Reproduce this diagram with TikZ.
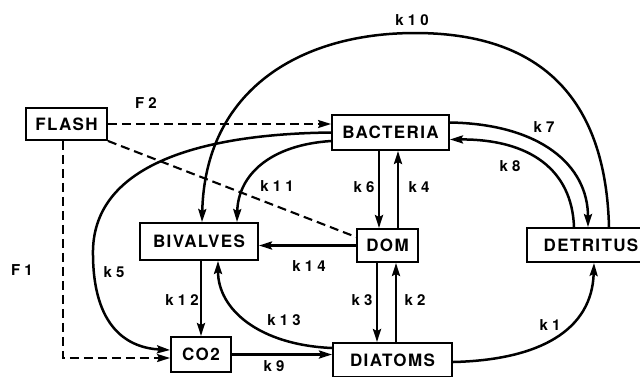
\documentclass[tikz,border=0pt]{standalone}
\usepackage{fontspec}
\usetikzlibrary{arrows.meta}
\newfontfamily\bxfont[LetterSpace=8]{TeX Gyre Heros}
\newfontfamily\lbfont[LetterSpace=28]{TeX Gyre Heros}
\begin{document}
\begin{tikzpicture}[x=1pt,y=-1pt,
  box/.style={draw,line width=1.9pt,inner sep=0pt,font={\bxfont\bfseries\fontsize{17}{17}\selectfont}},
  lab/.style={inner sep=0pt,font={\lbfont\bfseries\fontsize{15}{15}\selectfont}},
  arr/.style={line width=2.5pt,-{Stealth[length=13pt,width=8pt,inset=2pt]}},
  dsh/.style={line width=2.1pt,dash pattern=on 9pt off 5pt},
  dsharr/.style={dsh,-{Stealth[length=13pt,width=8pt,inset=2pt]}}]
\clip (0,0) rectangle (640,376);
\fill[white] (0,0) rectangle (640,376);
% boxes
\node[box,minimum width=81pt,minimum height=32pt] (flash) at (66.5,124) {FLASH};
\node[box,minimum width=117pt,minimum height=35pt] (bact) at (390.5,132.5) {BACTERIA};
\node[box,minimum width=118pt,minimum height=37pt] (biv) at (199,241.5) {BIVALVES};
\node[box,minimum width=61pt,minimum height=33pt] (dom) at (387.5,245.5) {DOM};
\node[box,minimum width=128pt,minimum height=34pt] (det) at (591,245) {DETRITUS};
\node[box,minimum width=60pt,minimum height=35pt] (co2) at (201,354.5) {CO2};
\node[box,minimum width=119pt,minimum height=34pt] (diat) at (392.5,360) {DIATOMS};
% dashed flows
\draw[dsharr] (flash.east) -- (flash.east -| bact.west);
\draw[dsh] (flash.south east) -- ([yshift=8.5pt]dom.west);
\draw[dsharr] ([xshift=-3.5pt]flash.south) |- ([yshift=-3.5pt]co2.west);
% straight flows
\draw[arr] ([xshift=-11.5pt]bact.south) -- ([xshift=-11.5pt]bact.south |- dom.north);
\draw[arr] ([xshift=10.5pt]dom.north) -- ([xshift=10.5pt]dom.north |- bact.south);
\draw[arr] ([xshift=-10.5pt]dom.south) -- ([xshift=-10.5pt]dom.south |- diat.north);
\draw[arr] ([xshift=3.5pt]diat.north) -- ([xshift=3.5pt]diat.north |- dom.south);
\draw[arr] (dom.west) -- (dom.west -| biv.east);
\draw[arr] (co2.north |- biv.south) -- (co2.north);
\draw[arr] (co2.east) -- (co2.east -| diat.west);
% curved flows
\draw[arr] (bact.west) .. controls (200,134) and (95,165) .. (93,250)
  .. controls (92,330) and (130,348) .. ([yshift=4.5pt]co2.west);
\draw[arr] ([xshift=18pt]det.north) .. controls (605,70) and (510,33) .. (415,33)
  .. controls (300,33) and (205,90) .. ([xshift=3pt]biv.north);
\draw[arr] ([yshift=10pt]bact.east) .. controls (540,124) and (588,165) .. ([xshift=-3pt]det.north);
\draw[arr] ([xshift=-17pt]det.north) .. controls (572,170) and (530,139) .. ([yshift=-7pt]bact.east);
\draw[arr] ([yshift=-8.5pt]bact.west) .. controls (270,145) and (238,175) .. ([xshift=38pt]biv.north);
\draw[arr] ([yshift=12pt]diat.west) .. controls (260,345) and (218,310) .. ([xshift=19pt]biv.south);
\draw[arr] ([yshift=-2pt]diat.east) .. controls (540,360) and (592,330) .. ([xshift=3pt]det.south);
% labels
\node[lab] (lk10) at (412,20) {k10};
\node[lab] (lf2) at (146,103) {F2};
\node[lab] (lk7) at (544,127) {k7};
\node[lab] (lk8) at (510,166) {k8};
\node[lab] (lk11) at (277,186) {k11};
\node[lab] (lk6) at (364,187) {k6};
\node[lab] (lk4) at (419,187) {k4};
\node[lab] (lf1) at (22,270) {F1};
\node[lab] (lk5) at (114,272) {k5};
\node[lab] (lk14) at (309,266) {k14};
\node[lab] (lk12) at (182,300) {k12};
\node[lab] (lk13) at (284,320) {k13};
\node[lab] (lk3) at (362,300) {k3};
\node[lab] (lk2) at (415,300) {k2};
\node[lab] (lk1) at (550,325) {k1};
\node[lab] (lk9) at (274,366) {k9};
\end{tikzpicture}
\end{document}
